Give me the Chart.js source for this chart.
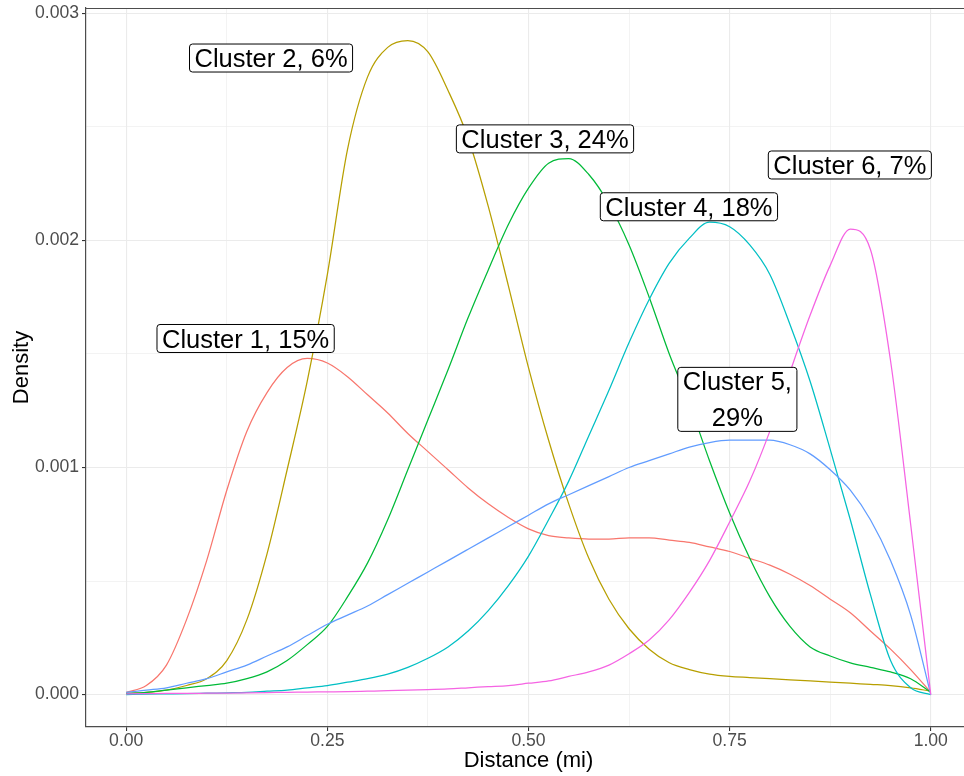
<!DOCTYPE html>
<html>
<head>
<meta charset="utf-8">
<script src="https://cdn.jsdelivr.net/npm/chart.js@4/dist/chart.umd.min.js"></script>
<style>
  html, body { margin: 0; padding: 0; background: #ffffff; overflow: hidden; }
  canvas { display: block; }
</style>
</head>
<body>
<canvas id="density" width="971" height="776"></canvas>
<script>
// Distance grid (miles) shared by every cluster's density estimate
const distance = [0, 0.025, 0.05, 0.075, 0.1, 0.125, 0.15, 0.175, 0.2, 0.225, 0.25, 0.275, 0.3, 0.325, 0.35, 0.375, 0.4, 0.425, 0.45, 0.475, 0.5, 0.525, 0.55, 0.575, 0.6, 0.625, 0.65, 0.675, 0.7, 0.725, 0.75, 0.775, 0.8, 0.825, 0.85, 0.875, 0.9, 0.925, 0.95, 0.975, 1.0];

const cluster1 = [0.00001, 0.00004, 0.00013, 0.00033, 0.00059, 0.0009, 0.00116, 0.00133, 0.00144, 0.00148, 0.00146, 0.0014, 0.00132, 0.00124, 0.00115, 0.00107, 0.00099, 0.00091, 0.00084, 0.00078, 0.00073, 0.0007, 0.00069, 0.000685, 0.000685, 0.00069, 0.00069, 0.00068, 0.00067, 0.00065, 0.00063, 0.0006, 0.00057, 0.00053, 0.00048, 0.00042, 0.00036, 0.00028, 0.0002, 0.00011, 0.00001];
const cluster2 = [0.000005, 0.00001, 0.00002, 0.00004, 0.00007, 0.00015, 0.00033, 0.00062, 0.00099, 0.00138, 0.00185, 0.0024, 0.00272, 0.00285, 0.00288, 0.00283, 0.00266, 0.00245, 0.00215, 0.0018, 0.00144, 0.00112, 0.00084, 0.0006, 0.00042, 0.00029, 0.0002, 0.00014, 0.00011, 0.00009, 0.00008, 0.000075, 0.00007, 0.000065, 0.00006, 0.000055, 0.00005, 0.000045, 0.00004, 0.00003, 0.000015];
const cluster3 = [0.000005, 0.00001, 0.00002, 0.00003, 0.00004, 0.00005, 0.00007, 0.0001, 0.00015, 0.00022, 0.0003, 0.00043, 0.00058, 0.00077, 0.00099, 0.00121, 0.00143, 0.00166, 0.00187, 0.00207, 0.00223, 0.00234, 0.00236, 0.00229, 0.00216, 0.00198, 0.00175, 0.0015, 0.00128, 0.00103, 0.0008, 0.0006, 0.00043, 0.0003, 0.00021, 0.00017, 0.00014, 0.00012, 0.0001, 0.00007, 0.00001];
const cluster4 = [0, 0.000002, 0.000003, 0.000004, 0.000006, 0.000008, 0.00001, 0.000015, 0.00002, 0.00003, 0.00004, 0.000055, 0.00007, 0.00009, 0.00012, 0.00016, 0.00021, 0.00028, 0.00037, 0.00048, 0.00061, 0.00077, 0.00094, 0.00114, 0.00134, 0.00155, 0.00174, 0.0019, 0.00201, 0.00208, 0.00206, 0.00198, 0.00185, 0.00163, 0.00138, 0.00108, 0.00077, 0.00044, 0.00015, 0.00003, 0];
const cluster5 = [0.00001, 0.00002, 0.00003, 0.00005, 0.00007, 0.0001, 0.00013, 0.00017, 0.00021, 0.00026, 0.00031, 0.00035, 0.00039, 0.00044, 0.00049, 0.00054, 0.00059, 0.00064, 0.00069, 0.00074, 0.00079, 0.00084, 0.00088, 0.00092, 0.00096, 0.001, 0.00103, 0.00106, 0.00109, 0.00111, 0.00112, 0.00112, 0.00112, 0.0011, 0.00106, 0.00099, 0.0009, 0.00077, 0.00059, 0.00035, 0];
const cluster6 = [0.000003, 0.000004, 0.000005, 0.000005, 0.000006, 0.000007, 0.000008, 0.000009, 0.00001, 0.000011, 0.000012, 0.000013, 0.000015, 0.000017, 0.00002, 0.000022, 0.000025, 0.00003, 0.000035, 0.00004, 0.00005, 0.00006, 0.00008, 0.0001, 0.00013, 0.00018, 0.00024, 0.00033, 0.00045, 0.00059, 0.00076, 0.00094, 0.00116, 0.00142, 0.00167, 0.00189, 0.00205, 0.00196, 0.00147, 0.00075, 0];

const clusterNames = ['Cluster 1', 'Cluster 2', 'Cluster 3', 'Cluster 4', 'Cluster 5', 'Cluster 6'];
const clusterValues = [cluster1, cluster2, cluster3, cluster4, cluster5, cluster6];
const clusterColors = ['#F8766D', '#B79F00', '#00BA38', '#00BFC4', '#619CFF', '#F564E3'];

// Boxed annotations: text and anchor point in data units
const labelText = ['Cluster 1, 15%', 'Cluster 2, 6%', 'Cluster 3, 24%', 'Cluster 4, 18%', 'Cluster 5,\n29%', 'Cluster 6, 7%'];
const labelX = [0.1484, 0.180, 0.5205, 0.6994, 0.7596, 0.8994];
const labelY = [0.001568, 0.002803, 0.002447, 0.002148, 0.0013, 0.002332];

// Axis breaks (major breaks carry labels, minor breaks only grid lines)
const xBreaks = [0, 0.125, 0.25, 0.375, 0.5, 0.625, 0.75, 0.875, 1.0];
const xBreakLabels = ['0.00', '', '0.25', '', '0.50', '', '0.75', '', '1.00'];
const yBreaks = [0, 0.0005, 0.001, 0.0015, 0.002, 0.0025, 0.003];
const yBreakLabels = ['0.000', '', '0.001', '', '0.002', '', '0.003'];

const FONT = '"Liberation Sans", Arial, Helvetica, sans-serif';
Chart.defaults.font.family = FONT;

const datasets = clusterNames.map((name, i) => ({
  label: name,
  data: distance.map((d, j) => ({ x: d, y: clusterValues[i][j] })),
  borderColor: clusterColors[i],
  borderWidth: 1.25,
  pointRadius: 0,
  fill: false,
  cubicInterpolationMode: 'monotone',
  order: clusterNames.length - i
}));

const isMajor = (labels, index) => labels[index] !== '';

// Top panel edge
const panelTop = {
  id: 'panelTop',
  afterDraw(chart) {
    const { ctx, chartArea } = chart;
    const y = Math.round(chartArea.top) + 0.5;
    ctx.save();
    ctx.strokeStyle = '#4d4d4d';
    ctx.lineWidth = 1.2;
    ctx.beginPath();
    ctx.moveTo(chartArea.left, y);
    ctx.lineTo(chartArea.right, y);
    ctx.stroke();
    ctx.restore();
  }
};

// Boxed text annotations
const boxedLabels = {
  id: 'boxedLabels',
  afterDatasetsDraw(chart) {
    const { ctx, scales } = chart;
    const size = 25.5;
    const lineGap = 36;
    const padX = 5;
    const boxH1 = 28;
    ctx.save();
    ctx.font = size + 'px ' + FONT;
    labelText.forEach((txt, i) => {
      const lines = txt.split('\n');
      const cx = scales.x.getPixelForValue(labelX[i]);
      const cy = scales.y.getPixelForValue(labelY[i]);
      const w = Math.max(...lines.map(l => ctx.measureText(l).width)) + 2 * padX;
      const h = boxH1 + lineGap * (lines.length - 1);
      const x0 = cx - w / 2, y0 = cy - h / 2;
      ctx.beginPath();
      ctx.roundRect(x0, y0, w, h, 3);
      ctx.fillStyle = '#ffffff';
      ctx.fill();
      ctx.strokeStyle = '#000000';
      ctx.lineWidth = 1;
      ctx.stroke();
      ctx.fillStyle = '#000000';
      ctx.textAlign = 'center';
      ctx.textBaseline = 'alphabetic';
      lines.forEach((l, k) => {
        const ly = cy + (k - (lines.length - 1) / 2) * lineGap + size * 0.358;
        ctx.fillText(l, cx, ly);
      });
    });
    ctx.restore();
  }
};

// Keep tick labels from pushing the panel edges inward
const noEdgePadding = s => {
  s.paddingTop = 0; s.paddingBottom = 0; s.paddingLeft = 0; s.paddingRight = 0;
};

new Chart(document.getElementById('density'), {
  type: 'line',
  data: { datasets },
  options: {
    responsive: false,
    animation: false,
    devicePixelRatio: 1,
    layout: { padding: { top: 8, right: 0, bottom: 0, left: 0 } },
    plugins: { legend: { display: false }, tooltip: { enabled: false } },
    scales: {
      x: {
        type: 'linear',
        min: -0.05,
        max: 1.05,
        afterBuildTicks: s => { s.ticks = xBreaks.map(v => ({ value: v })); },
        afterFit: s => { s.height = 49; noEdgePadding(s); },
        ticks: {
          autoSkip: false,
          maxRotation: 0,
          padding: 0,
          color: '#4d4d4d',
          font: { size: 17.6 },
          callback: (v, i) => xBreakLabels[i]
        },
        grid: {
          color: '#ebebeb',
          lineWidth: c => (c.tick && isMajor(xBreakLabels, c.index)) ? 1.1 : 0.6,
          tickColor: c => isMajor(xBreakLabels, c.index) ? '#333333' : 'rgba(0,0,0,0)',
          tickLength: 4,
          tickWidth: 1.1
        },
        border: { display: true, color: '#4d4d4d', width: 1.2 },
        title: {
          display: true,
          text: 'Distance (mi)',
          color: '#000000',
          font: { size: 22 },
          padding: { top: 0, bottom: 2 }
        }
      },
      y: {
        type: 'linear',
        min: -0.0001427,
        max: 0.0030233,
        afterBuildTicks: s => { s.ticks = yBreaks.map(v => ({ value: v })); },
        afterFit: s => { s.width = 86; noEdgePadding(s); },
        ticks: {
          autoSkip: false,
          padding: 3,
          color: '#4d4d4d',
          font: { size: 17.6 },
          callback: (v, i) => yBreakLabels[i]
        },
        grid: {
          color: '#ebebeb',
          lineWidth: c => (c.tick && isMajor(yBreakLabels, c.index)) ? 1.1 : 0.6,
          tickColor: c => isMajor(yBreakLabels, c.index) ? '#333333' : 'rgba(0,0,0,0)',
          tickLength: 4,
          tickWidth: 1.1
        },
        border: { display: true, color: '#4d4d4d', width: 1.2 },
        title: {
          display: true,
          text: 'Density',
          color: '#000000',
          font: { size: 22 },
          padding: { top: 9, bottom: 0 }
        }
      }
    }
  },
  plugins: [panelTop, boxedLabels]
});
</script>
</body>
</html>
